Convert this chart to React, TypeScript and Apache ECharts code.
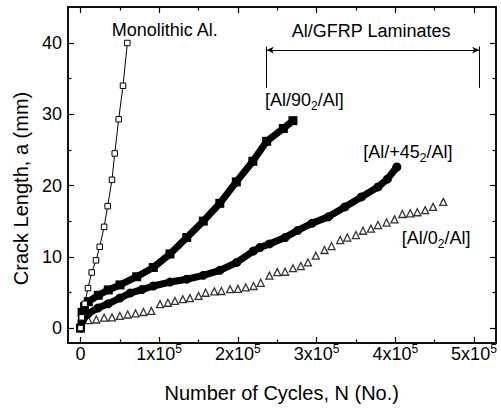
import React, { useEffect, useRef } from "react";
import * as echarts from "echarts";

// ---- data (cycles, crack length mm) ----
const monolithic: [number, number][] = [
  [0, 0], [1500, 1.5], [5300, 3.4], [9500, 5.6], [14200, 7.8], [19700, 9.5],
  [24400, 11.4], [30000, 14.2], [34500, 17.1], [40000, 20.8], [43500, 24.5],
  [48500, 29.3], [54000, 34.0], [59500, 40.0],
];

const al90: [number, number][] = [
  [0, 0], [2000, 2.2], [5000, 3.0], [9900, 3.7], [22600, 4.6], [35300, 5.35],
  [50200, 6.05], [71400, 7.2], [92500, 8.5], [113700, 10.4], [135000, 12.7],
  [156000, 15.0], [177000, 17.5], [198000, 20.5], [219000, 23.4], [236600, 26.2],
  [257700, 28.0], [270000, 29.1],
];

const al45: [number, number][] = [
  [0, 0], [2000, 1.1], [9500, 2.0], [22000, 2.8], [35000, 3.4], [50000, 4.2],
  [63000, 4.9], [78000, 5.4], [92500, 5.9], [113700, 6.45], [135000, 6.85],
  [156000, 7.4], [177000, 8.1], [198500, 9.2], [219600, 10.8], [228000, 11.3],
  [240000, 11.8], [260000, 12.7], [276000, 13.7], [294000, 14.7], [315000, 15.6],
  [336000, 17.0], [357000, 18.4], [378000, 19.8], [390000, 20.9], [402000, 22.6],
];

const al0: [number, number][] = [
  [0, 0], [10000, 1.1], [20000, 1.2], [30000, 1.45], [40000, 1.5], [50000, 1.7],
  [60000, 1.9], [70000, 2.05], [80000, 2.25], [90000, 2.4], [101000, 3.35],
  [111000, 3.55], [120000, 3.8], [130000, 4.05], [139000, 4.2], [150000, 4.5],
  [159000, 4.95], [170000, 5.15], [179000, 5.2], [190000, 5.45], [200000, 5.5],
  [210000, 5.7], [220000, 5.9], [229000, 6.35], [240000, 7.35], [250000, 7.85],
  [260000, 7.9], [270000, 8.4], [280000, 8.7], [289000, 9.2], [299000, 10.15],
  [310000, 10.95], [319000, 11.5], [330000, 12.35], [339000, 12.7], [350000, 13.05],
  [359000, 13.65], [369000, 13.95], [378000, 14.45], [389000, 14.8], [399000, 15.25],
  [409000, 16.0], [419000, 16.1], [428000, 16.25], [438000, 16.55], [448000, 17.0],
  [461000, 17.7],
];

const xMajorTicks = [0, 100000, 200000, 300000, 400000, 500000];
const xMinorTicks = [50000, 150000, 250000, 350000, 450000];
const yMajorTicks = [0, 10, 20, 30, 40];
const yMinorTicks = [5, 15, 25, 35];

// bracket for the "Al/GFRP Laminates" group
const bracketX = [236600, 506700];
const bracketY = [33.7, 39.5];
const bracketBarY = 39.0;

const X_MIN = -15900;
const X_MAX = 528000;
const Y_MIN = -2.1;
const Y_MAX = 45.05;

const FONT = "'Liberation Sans', Arial, Helvetica, sans-serif";

function xAxisDef(position: string, ticks: number[], len: number, withLabels: boolean, withLine: boolean) {
  return {
    type: "value",
    min: X_MIN,
    max: X_MAX,
    position,
    axisLine: { show: withLine, onZero: false, lineStyle: { color: "#000", width: 1.5 } },
    axisTick: { show: true, inside: true, length: len, customValues: ticks, lineStyle: { color: "#000", width: 1.2 } },
    axisLabel: withLabels
      ? {
          show: true,
          customValues: xMajorTicks,
          margin: 0,
          color: "#000",
          fontFamily: FONT,
          formatter: (v: number) => (v === 0 ? "{a|0}" : `{a|${Math.round(v / 100000)}x10}{sup|5}`),
          rich: {
            a: { fontSize: 18, lineHeight: 18, padding: [2, 0, 0, 0], verticalAlign: "top", color: "#000", fontFamily: FONT },
            sup: { fontSize: 12, lineHeight: 12, verticalAlign: "top", color: "#000", fontFamily: FONT },
          },
        }
      : { show: false },
    splitLine: { show: false },
  };
}

function yAxisDef(position: string, ticks: number[], len: number, withLabels: boolean, withLine: boolean) {
  return {
    type: "value",
    min: Y_MIN,
    max: Y_MAX,
    position,
    axisLine: { show: withLine, onZero: false, lineStyle: { color: "#000", width: 1.5 } },
    axisTick: { show: true, inside: true, length: len, customValues: ticks, lineStyle: { color: "#000", width: 1.2 } },
    axisLabel: withLabels
      ? { show: true, customValues: yMajorTicks, margin: 6, color: "#000", fontSize: 18, fontFamily: FONT }
      : { show: false },
    splitLine: { show: false },
  };
}

function subLabel(pre: string, post: string, x: number, y: number) {
  return {
    type: "text",
    x,
    y,
    silent: true,
    style: {
      text: `{a|${pre}}{sub|2}{a|${post}}`,
      align: "left",
      verticalAlign: "top",
      fill: "#000",
      rich: {
        a: { fontSize: 18, lineHeight: 18, verticalAlign: "top", fontFamily: FONT, fill: "#000" },
        sub: { fontSize: 12, lineHeight: 12, padding: [9, 0, 0, 0], verticalAlign: "top", fontFamily: FONT, fill: "#000" },
      },
    },
  };
}

export default function App() {
  const ref = useRef<HTMLDivElement>(null);

  useEffect(() => {
    if (!ref.current) return;
    const chart = echarts.init(ref.current, null, { renderer: "svg" });
    chart.setOption({
      animation: false,
      backgroundColor: "#fff",
      textStyle: { fontFamily: FONT },
      grid: { left: 68, right: 5, top: 7, bottom: 65, show: true, borderColor: "#000", borderWidth: 1.5, backgroundColor: "transparent" },
      xAxis: [
        xAxisDef("bottom", xMajorTicks, 6, true, true),
        xAxisDef("bottom", xMinorTicks, 3.5, false, false),
        xAxisDef("top", xMajorTicks, 6, false, true),
        xAxisDef("top", xMinorTicks, 3.5, false, false),
      ],
      yAxis: [
        yAxisDef("left", yMajorTicks, 6, true, true),
        yAxisDef("left", yMinorTicks, 3.5, false, false),
        yAxisDef("right", yMajorTicks, 6, false, true),
        yAxisDef("right", yMinorTicks, 3.5, false, false),
      ],
      series: [
        {
          name: "[Al/0₂/Al]",
          type: "scatter",
          data: al0,
          symbol: "triangle",
          symbolSize: 7,
          itemStyle: { color: "#fff", borderColor: "#000", borderWidth: 1.3 },
          silent: true,
          z: 3,
        },
        {
          name: "[Al/+45₂/Al]",
          type: "line",
          data: al45,
          symbol: "circle",
          symbolSize: 9,
          showAllSymbol: true,
          lineStyle: { color: "#000", width: 7, join: "round", cap: "round" },
          itemStyle: { color: "#000" },
          silent: true,
          z: 4,
        },
        {
          name: "[Al/90₂/Al]",
          type: "line",
          data: al90,
          symbol: "rect",
          symbolSize: 9,
          showAllSymbol: true,
          lineStyle: { color: "#000", width: 7, join: "round", cap: "round" },
          itemStyle: { color: "#000" },
          silent: true,
          z: 4,
        },
        {
          name: "Monolithic Al.",
          type: "line",
          data: monolithic,
          symbol: "rect",
          symbolSize: 5.5,
          showAllSymbol: true,
          lineStyle: { color: "#000", width: 1 },
          itemStyle: { color: "#fff", borderColor: "#000", borderWidth: 1 },
          silent: true,
          z: 5,
          markLine: {
            silent: true,
            symbol: ["none", "none"],
            lineStyle: { color: "#000", width: 1, type: "solid" },
            label: { show: false },
            data: [
              [{ coord: [bracketX[0], bracketY[0]] }, { coord: [bracketX[0], bracketY[1]] }],
              [{ coord: [bracketX[1], bracketY[0]] }, { coord: [bracketX[1], bracketY[1]] }],
              [
                { coord: [bracketX[0], bracketBarY], symbol: "arrow", symbolSize: [5, 7] },
                { coord: [bracketX[1], bracketBarY], symbol: "arrow", symbolSize: [5, 7] },
              ],
            ],
          },
        },
      ],
      graphic: [
        {
          type: "text",
          x: 111.7,
          y: 30,
          silent: true,
          style: { text: "Monolithic Al.", fontSize: 18, fontFamily: FONT, fill: "#000", align: "left", verticalAlign: "middle" },
        },
        {
          type: "text",
          x: 291.7,
          y: 30.5,
          silent: true,
          style: { text: "Al/GFRP Laminates", fontSize: 18, fontFamily: FONT, fill: "#000", align: "left", verticalAlign: "middle" },
        },
        subLabel("[Al/90", "/Al]", 265, 90.5),
        subLabel("[Al/+45", "/Al]", 363.3, 142.7),
        subLabel("[Al/0", "/Al]", 401.7, 229.3),
        {
          type: "text",
          x: 281.7,
          y: 392.5,
          silent: true,
          style: { text: "Number of Cycles, N (No.)", fontSize: 20, fontFamily: FONT, fill: "#000", align: "center", verticalAlign: "middle" },
        },
        {
          type: "text",
          x: 20.8,
          y: 188.5,
          rotation: Math.PI / 2,
          silent: true,
          style: { text: "Crack Length, a (mm)", fontSize: 20, fontFamily: FONT, fill: "#000", align: "center", verticalAlign: "middle" },
        },
      ],
    });
    return () => chart.dispose();
  }, []);

  return (
    <div
      ref={ref}
      style={{ position: "absolute", left: 0, top: 0, width: 501, height: 408, background: "#fff" }}
    />
  );
}
